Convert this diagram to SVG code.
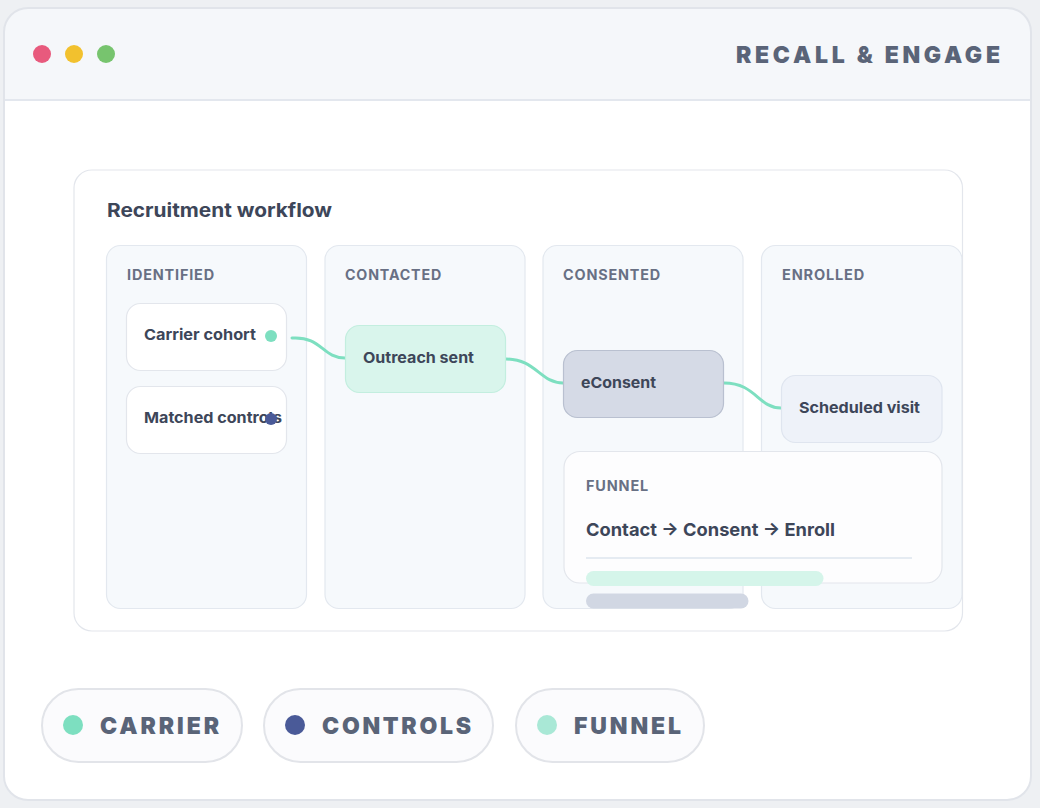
<svg xmlns="http://www.w3.org/2000/svg" width="1040" height="808" viewBox="0 0 1040 808">
<defs>
<style>
.t{font-family:Inter,"Noto Sans","Liberation Sans",sans-serif;font-weight:700;fill:#3d4659}
.h{font-family:Inter,"Noto Sans","Liberation Sans",sans-serif;font-weight:700;fill:#687084;font-size:14px;letter-spacing:0.8px}
.lg{font-family:Inter,"Noto Sans","Liberation Sans",sans-serif;font-weight:900;fill:#5a6478;font-size:23px}
.col{fill:#f6f9fc;stroke:#e3e8ef;stroke-width:1.2}
.card{stroke-width:1.2}
.pill{fill:#fbfbfd;stroke:#e2e4e9;stroke-width:2}
.conn{fill:none;stroke:#7ddfc0;stroke-width:3;stroke-linecap:round}
</style>
<clipPath id="winclip"><rect x="4" y="8" width="1027" height="792" rx="24"/></clipPath>
<clipPath id="panelclip"><rect x="74" y="170" width="888.5" height="461" rx="18"/></clipPath>
</defs>
<rect x="0" y="0" width="1040" height="808" fill="#eef0f3"/>
<g id="window">
<rect x="4" y="8" width="1027" height="792" rx="24" fill="#ffffff"/>
<g clip-path="url(#winclip)">
<rect x="4" y="8" width="1027" height="92" fill="#f5f7fa"/>
<line x1="4" y1="100" x2="1031" y2="100" stroke="#e3e7ee" stroke-width="2"/>
</g>
<rect x="4" y="8" width="1027" height="792" rx="24" fill="none" stroke="#e1e4ea" stroke-width="2"/>
<circle cx="42" cy="54" r="9" fill="#e85a7d"/>
<circle cx="74" cy="54" r="9" fill="#f2c12e"/>
<circle cx="106" cy="54" r="9" fill="#77c46e"/>
<text class="lg" x="736" y="63" font-size="21" textLength="264" lengthAdjust="spacing">RECALL &amp; ENGAGE</text>
</g>
<g id="panel">
<rect x="74" y="170" width="888.5" height="461" rx="18" fill="#ffffff" stroke="#e3e6ec" stroke-width="1.2"/>
<text class="t" x="107" y="217" font-size="19" font-weight="800" textLength="225" lengthAdjust="spacingAndGlyphs">Recruitment workflow</text>
</g>
<g clip-path="url(#panelclip)">
<g id="col-identified">
<rect class="col" x="106.5" y="245.5" width="200" height="363" rx="14"/>
<text class="h" x="127" y="280" textLength="88" lengthAdjust="spacingAndGlyphs">IDENTIFIED</text>
</g>
<g id="col-contacted">
<rect class="col" x="325" y="245.5" width="200" height="363" rx="14"/>
<text class="h" x="345" y="280" textLength="97" lengthAdjust="spacingAndGlyphs">CONTACTED</text>
</g>
<g id="col-consented">
<rect class="col" x="543" y="245.5" width="200" height="363" rx="14"/>
<text class="h" x="563" y="280" textLength="98" lengthAdjust="spacingAndGlyphs">CONSENTED</text>
</g>
<g id="col-enrolled">
<rect class="col" x="761.5" y="245.5" width="200.5" height="363" rx="14"/>
<text class="h" x="782" y="280" textLength="83" lengthAdjust="spacingAndGlyphs">ENROLLED</text>
</g>
</g>
<g id="connectors">
<path class="conn" d="M292,338 C322,336 322,358 345,358"/>
<path class="conn" d="M506,359 C536,359 540,383 563,383"/>
<path class="conn" d="M724,383 C756,383 758,408 781,408"/>
</g>
<g id="carrier-cohort">
<rect class="card" x="126.5" y="303.5" width="160" height="67" rx="14" fill="#ffffff" stroke="#e3e6ec"/>
<text class="t" x="144" y="340" font-size="15" textLength="112" lengthAdjust="spacingAndGlyphs">Carrier cohort</text>
<circle cx="271" cy="336" r="6" fill="#7ddfc0"/>
</g>
<g id="matched-controls">
<rect class="card" x="126.5" y="386.5" width="160" height="67" rx="14" fill="#ffffff" stroke="#e3e6ec"/>
<text class="t" x="144" y="423" font-size="15" textLength="138" lengthAdjust="spacingAndGlyphs">Matched controls</text>
<circle cx="271" cy="419" r="6" fill="#4a5a98"/>
</g>
<g id="outreach-sent">
<rect class="card" x="345.5" y="325.5" width="160" height="67" rx="14" fill="#d9f5ec" stroke="#c3eedf"/>
<text class="t" x="363" y="363" font-size="15" textLength="111" lengthAdjust="spacingAndGlyphs">Outreach sent</text>
</g>
<g id="econsent">
<rect class="card" x="563.5" y="350.5" width="160" height="67" rx="14" fill="#d5dae6" stroke="#b9c0d0"/>
<text class="t" x="581" y="388" font-size="15" textLength="75" lengthAdjust="spacingAndGlyphs">eConsent</text>
</g>
<g id="scheduled-visit">
<rect class="card" x="781.5" y="375.5" width="160.5" height="67" rx="14" fill="#eef2f9" stroke="#dfe5ef"/>
<text class="t" x="799" y="413" font-size="15" textLength="121" lengthAdjust="spacingAndGlyphs">Scheduled visit</text>
</g>
<g id="funnel">
<rect x="564" y="451.5" width="378" height="131.5" rx="16" fill="#fdfdfe" stroke="#e3e6ec" stroke-width="1.2"/>
<text class="h" x="586" y="491" textLength="63" lengthAdjust="spacingAndGlyphs">FUNNEL</text>
<text class="t" x="586" y="536" font-size="18" textLength="249" lengthAdjust="spacingAndGlyphs">Contact → Consent → Enroll</text>
<line x1="586" y1="558" x2="912" y2="558" stroke="#e5ebf2" stroke-width="2"/>
<rect x="586" y="571" width="237.5" height="15" rx="7.5" fill="#d5f5ea"/>
<rect x="586" y="593.5" width="162.5" height="15" rx="7.5" fill="#d1d7e3"/>
</g>
<g id="legend-carrier">
<rect class="pill" x="42" y="689" width="200" height="73" rx="36.5"/>
<circle cx="73" cy="725" r="10" fill="#7ddfc0"/>
<text class="lg" x="100" y="734" textLength="119" lengthAdjust="spacing">CARRIER</text>
</g>
<g id="legend-controls">
<rect class="pill" x="264" y="689" width="229" height="73" rx="36.5"/>
<circle cx="295" cy="725" r="10" fill="#4a5a98"/>
<text class="lg" x="322" y="734" textLength="149" lengthAdjust="spacing">CONTROLS</text>
</g>
<g id="legend-funnel">
<rect class="pill" x="516" y="689" width="188" height="73" rx="36.5"/>
<circle cx="547" cy="725" r="10" fill="#a9e8d6"/>
<text class="lg" x="574" y="734" textLength="107" lengthAdjust="spacing">FUNNEL</text>
</g>
</svg>
